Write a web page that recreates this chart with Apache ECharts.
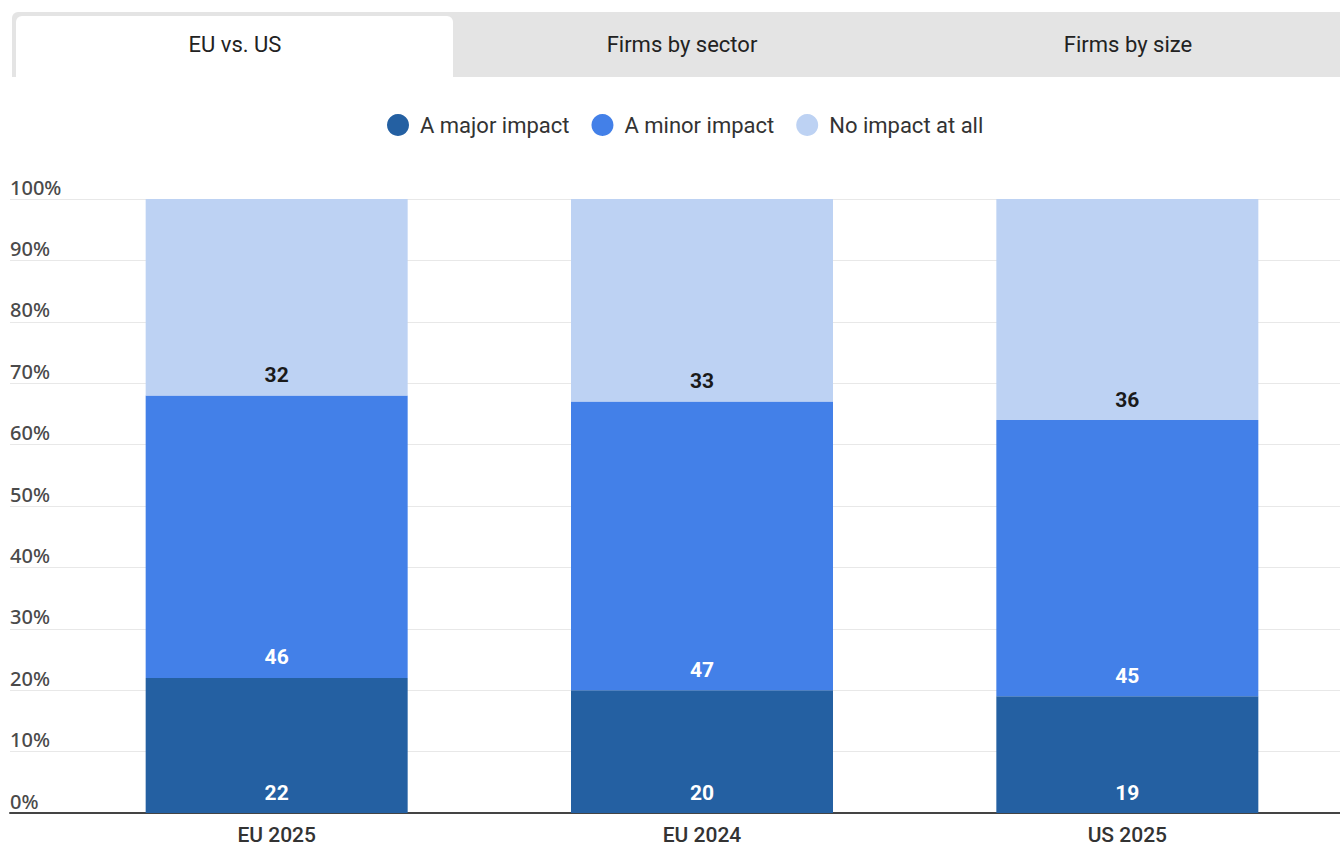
<!DOCTYPE html>
<html>
<head>
<meta charset="utf-8">
<script src="https://cdn.jsdelivr.net/npm/echarts@6/dist/echarts.min.js"></script>
<style>
html,body{margin:0;padding:0;background:#fff;}
#chart{width:1340px;height:846px;}
</style>
</head>
<body>
<div id="chart"></div>
<script>
const categories = ['EU 2025', 'EU 2024', 'US 2025'];
const seriesNames = ['A major impact', 'A minor impact', 'No impact at all'];
const majorImpact = [22, 20, 19];
const minorImpact = [46, 47, 45];
const noImpact = [32, 33, 36];
const tabLabels = ['EU vs. US', 'Firms by sector', 'Firms by size'];

const colors = ['#2460a2', '#4380e8', '#bdd2f3'];
const labelColors = ['#ffffff', '#ffffff', '#1a1a1a'];
const values = [majorImpact, minorImpact, noImpact];

const chart = echarts.init(document.getElementById('chart'), null, {renderer: 'svg'});

const tabCenters = [235, 682, 1128];
const graphics = [
  {type: 'rect', shape: {x: 12, y: 12, width: 1340, height: 65, r: [6, 0, 0, 0]}, style: {fill: '#e4e4e4'}, z: 0},
  {type: 'rect', shape: {x: 16, y: 16, width: 437, height: 61, r: [6, 6, 0, 0]}, style: {fill: '#ffffff'}, z: 1}
];
tabLabels.forEach((t, i) => {
  graphics.push({type: 'text', x: tabCenters[i], y: 44, z: 2,
    style: {text: t, fill: '#222', font: '22px Roboto', align: 'center', verticalAlign: 'middle'}});
});

const option = {
  animation: false,
  backgroundColor: '#fff',
  graphic: graphics,
  legend: {
    data: seriesNames,
    top: 109,
    left: 382,
    icon: 'circle',
    itemWidth: 22,
    itemHeight: 22,
    itemGap: 22,
    textStyle: {fontFamily: 'Roboto', fontSize: 22, color: '#333', padding: [0, 0, 0, 6]}
  },
  grid: [
    {left: 10, right: 0, top: 199, bottom: 33, containLabel: false},
    {left: 64, right: 0, top: 199, bottom: 33, containLabel: false}
  ],
  xAxis: [
    {type: 'value', gridIndex: 0, min: 0, max: 1, show: true,
      axisLine: {show: true, onZero: false, lineStyle: {color: '#444', width: 2}},
      axisTick: {show: false}, axisLabel: {show: false}, splitLine: {show: false}},
    {type: 'category', gridIndex: 1, data: categories, boundaryGap: true,
      axisLine: {show: false}, axisTick: {show: false},
      axisLabel: {fontFamily: 'Roboto', fontSize: 21, lineHeight: 21, fontWeight: 500, color: '#333', margin: 11}}
  ],
  yAxis: [
    {type: 'value', gridIndex: 0, min: 0, max: 100, interval: 10,
      axisLine: {show: false}, axisTick: {show: false},
      splitLine: {lineStyle: {color: '#e8e8e8', width: 1}},
      axisLabel: {inside: true, formatter: v => v + '%', fontFamily: 'Noto Sans', fontSize: 20, fontWeight: 500, color: '#4a4a4a',
        verticalAlign: 'bottom', margin: 0, padding: [0, 0, 2, 0]}},
    {type: 'value', gridIndex: 1, min: 0, max: 100, interval: 10, show: false}
  ],
  series: values.map((vals, i) => ({
    name: seriesNames[i],
    type: 'bar',
    stack: 'total',
    xAxisIndex: 1,
    yAxisIndex: 1,
    barWidth: 262,
    data: vals,
    itemStyle: {color: colors[i]},
    z: 3,
    label: {
      show: true,
      position: 'insideBottom',
      distance: 10,
      color: labelColors[i],
      fontFamily: 'Roboto',
      fontWeight: 'bold',
      fontSize: 21
    }
  })),
  color: colors
};
chart.setOption(option);
</script>
</body>
</html>
